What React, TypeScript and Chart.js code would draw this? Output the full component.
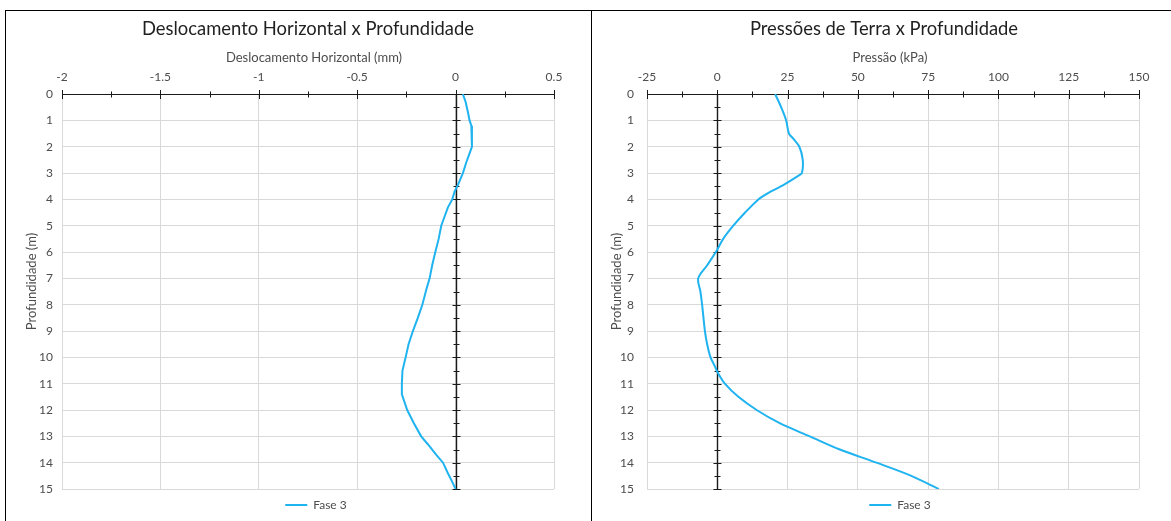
import React, { useEffect, useRef } from "react";
import { Chart, registerables } from "chart.js";

Chart.register(...registerables);

// ---------------- data ----------------
const depthTicks = [0, 1, 2, 3, 4, 5, 6, 7, 8, 9, 10, 11, 12, 13, 14, 15];

const deslocTicks = [-2, -1.5, -1, -0.5, 0, 0.5];
const deslocDepth = [
  0, 0.3, 0.7, 1.0, 1.2, 1.5, 2.0, 2.25, 2.6, 3.0, 3.45, 3.7, 4.0, 4.3, 4.65, 5.0, 5.5, 6.0, 6.5, 7.0,
  7.35, 8.0, 8.5, 9.0, 9.5, 10.0, 10.5, 11.0, 11.4, 12.0, 12.5, 13.0, 13.3, 13.7, 14.0, 14.4, 14.7, 15.0,
];
const deslocValue = [
  0.037, 0.051, 0.063, 0.071, 0.08, 0.083, 0.083, 0.071, 0.054, 0.037, 0.012, -0.005, -0.017, -0.039,
  -0.056, -0.073, -0.086, -0.103, -0.119, -0.132, -0.146, -0.169, -0.192, -0.217, -0.239, -0.254, -0.27,
  -0.273, -0.273, -0.246, -0.212, -0.175, -0.141, -0.098, -0.064, -0.039, -0.019, 0,
];

const pressaoTicks = [-25, 0, 25, 50, 75, 100, 125, 150];
const pressaoDepth = [
  0, 0.57, 1.0, 1.5, 1.7, 2.0, 2.5, 3.0, 3.1, 3.45, 3.75, 4.0, 4.5, 5.0, 5.5, 6.0, 6.5, 7.0, 7.5, 8.0,
  9.0, 9.5, 10.0, 10.35, 10.55, 11.0, 11.5, 12.0, 12.5, 13.0, 13.5, 14.0, 14.5, 15.0,
];
const pressaoValue = [
  20.6, 23, 24.5, 25.5, 27.1, 29.2, 30.4, 30.1, 28.9, 23.6, 18.2, 14.6, 9.9, 5.7, 2.1, -0.5, -3.6, -6.8,
  -6.0, -5.4, -4.4, -3.6, -2.4, -0.8, 0, 2.7, 7.5, 14, 22.2, 32.9, 43.6, 56.6, 69, 78.8,
];

const seriesLabel = "Fase 3";
const depthTitle = "Profundidade (m)";

// ---------------- styles ----------------
const FONT = "Lato, 'Open Sans', sans-serif";
const LINE_COLOR = "#1FB3F0";
const GRID_COLOR = "#D9D9D9";
const TEXT_COLOR = "#4d4d4d";
const TITLE_COLOR = "#1f1f1f";
const AXIS_COLOR = "#1a1a1a";

const crossAxesPlugin = {
  id: "crossAxes",
  beforeDatasetsDraw(chart: any, _args: any, opts: any) {
    const { ctx, chartArea: a, scales } = chart;
    const x = scales.x;
    const y = scales.y;
    const xt: number[] = opts.xTicks || [];
    ctx.save();
    ctx.strokeStyle = AXIS_COLOR;
    ctx.lineWidth = 1;
    ctx.beginPath();
    const yTop = Math.round(a.top) + 0.5;
    ctx.moveTo(a.left, yTop);
    ctx.lineTo(a.right, yTop);
    for (let i = 0; i < xt.length; i++) {
      const px = Math.round(x.getPixelForValue(xt[i])) + 0.5;
      ctx.moveTo(px, yTop - 4.5);
      ctx.lineTo(px, yTop + 4.5);
      if (i < xt.length - 1) {
        const pm = Math.round(x.getPixelForValue((xt[i] + xt[i + 1]) / 2)) + 0.5;
        ctx.moveTo(pm, yTop - 3);
        ctx.lineTo(pm, yTop + 3);
      }
    }
    ctx.stroke();
    ctx.beginPath();
    ctx.lineWidth = 1.4;
    const x0 = Math.round(x.getPixelForValue(0)) + 0.5;
    ctx.moveTo(x0, a.top);
    ctx.lineTo(x0, a.bottom);
    ctx.stroke();
    ctx.beginPath();
    ctx.lineWidth = 1;
    for (let i = 0; i < depthTicks.length; i++) {
      const py = Math.round(y.getPixelForValue(depthTicks[i])) + 0.5;
      ctx.moveTo(x0 - 4, py);
      ctx.lineTo(x0 + 4, py);
      if (i < depthTicks.length - 1) {
        const pm = Math.round(y.getPixelForValue((depthTicks[i] + depthTicks[i + 1]) / 2)) + 0.5;
        ctx.moveTo(x0 - 3, pm);
        ctx.lineTo(x0 + 3, pm);
      }
    }
    ctx.stroke();
    ctx.restore();
  },
};

// axis titles placed relative to the plot area
const axisTitlesPlugin = {
  id: "axisTitles",
  afterDraw(chart: any, _args: any, opts: any) {
    const { ctx, chartArea: a } = chart;
    ctx.save();
    ctx.fillStyle = TEXT_COLOR;
    ctx.font = `13px ${FONT}`;
    ctx.textAlign = "center";
    ctx.textBaseline = "middle";
    ctx.fillText(opts.xText, (a.left + a.right) / 2 + opts.xDx, a.top + opts.xDy);
    ctx.translate(opts.yX, (a.top + a.bottom) / 2 + opts.yDy);
    ctx.rotate(-Math.PI / 2);
    ctx.fillText(opts.yText, 0, 0);
    ctx.restore();
  },
};

const nudgePlugin = {
  id: "nudge",
  afterLayout(chart: any, _args: any, opts: any) {
    const t = chart.titleBlock;
    if (t && opts.titleDx) {
      t.left += opts.titleDx;
      t.right += opts.titleDx;
    }
    const l = chart.legend;
    if (l && opts.legendDx) {
      l.left += opts.legendDx;
      l.right += opts.legendDx;
    }
  },
};

type Cfg = {
  title: string;
  xTitle: string;
  depth: number[];
  values: number[];
  xTicks: number[];
  yAxisWidth: number;
  yTickPad: number;
  yTitleX: number;
  xTitleDx: number;
  padRight: number;
  titleDx: number;
  legendDx: number;
  tension: number;
};

function buildConfig(c: Cfg): any {
  const tickFont = { family: FONT, size: 12 };
  return {
    type: "scatter",
    data: {
      datasets: [
        {
          label: seriesLabel,
          data: c.depth.map((d, i) => ({ x: c.values[i], y: d })),
          showLine: true,
          borderColor: LINE_COLOR,
          backgroundColor: LINE_COLOR,
          borderWidth: 2,
          pointRadius: 0,
          pointHoverRadius: 0,
          tension: c.tension,
          fill: false,
        },
      ],
    },
    plugins: [crossAxesPlugin, axisTitlesPlugin, nudgePlugin],
    options: {
      responsive: false,
      animation: false,
      layout: { padding: { left: 0, right: c.padRight, top: 0, bottom: 0 } },
      plugins: {
        title: {
          display: true,
          text: c.title,
          color: TITLE_COLOR,
          font: { family: FONT, size: 18.4, weight: "normal" },
          padding: { top: 7, bottom: 0 },
        },
        legend: {
          position: "bottom",
          labels: {
            usePointStyle: true,
            pointStyle: "line",
            pointStyleWidth: 22,
            color: TEXT_COLOR,
            font: tickFont,
            padding: 10,
          },
        },
        tooltip: { enabled: false },
        crossAxes: { xTicks: c.xTicks },
        axisTitles: {
          xText: c.xTitle,
          xDx: c.xTitleDx,
          xDy: -36.5,
          yText: depthTitle,
          yX: c.yTitleX,
          yDy: -10,
        },
        nudge: { titleDx: c.titleDx, legendDx: c.legendDx },
      },
      scales: {
        x: {
          type: "linear",
          position: "top",
          min: c.xTicks[0],
          max: c.xTicks[c.xTicks.length - 1],
          afterBuildTicks: (s: any) => {
            s.ticks = c.xTicks.map((v) => ({ value: v }));
          },
          ticks: {
            padding: 10,
            color: TEXT_COLOR,
            font: tickFont,
            maxRotation: 0,
            autoSkip: false,
            callback: (v: any) => String(v),
          },
          grid: { color: GRID_COLOR, drawTicks: false, lineWidth: 1 },
          border: { display: false },
          title: { display: false },
          afterFit: (s: any) => {
            s.height = 54;
          },
        },
        y: {
          type: "linear",
          reverse: true,
          min: 0,
          max: 15,
          afterBuildTicks: (s: any) => {
            s.ticks = depthTicks.map((v) => ({ value: v }));
          },
          ticks: {
            padding: c.yTickPad,
            color: TEXT_COLOR,
            font: tickFont,
            autoSkip: false,
            callback: (v: any) => String(v),
          },
          grid: { color: GRID_COLOR, drawTicks: false, lineWidth: 1 },
          border: { display: false },
          title: { display: false },
          afterFit: (s: any) => {
            s.width = c.yAxisWidth;
          },
        },
      },
    },
  };
}

function ChartCanvas(props: { cfg: Cfg; left: number; top: number; width: number; height: number }) {
  const ref = useRef<HTMLCanvasElement | null>(null);
  useEffect(() => {
    if (!ref.current) return;
    const chart = new Chart(ref.current, buildConfig(props.cfg));
    return () => chart.destroy();
  }, []);
  return (
    <canvas
      ref={ref}
      width={props.width}
      height={props.height}
      style={{
        position: "absolute",
        left: props.left,
        top: props.top,
        width: props.width,
        height: props.height,
      }}
    />
  );
}

const leftCfg: Cfg = {
  title: "Deslocamento Horizontal x Profundidade",
  xTitle: "Deslocamento Horizontal (mm)",
  depth: deslocDepth,
  values: deslocValue,
  xTicks: deslocTicks,
  yAxisWidth: 56,
  yTickPad: 9,
  yTitleX: 26,
  xTitleDx: 6,
  padRight: 37,
  titleDx: 28,
  legendDx: 36,
  tension: 0,
};

const rightCfg: Cfg = {
  title: "Pressões de Terra x Profundidade",
  xTitle: "Pressão (kPa)",
  depth: pressaoDepth,
  values: pressaoValue,
  xTicks: pressaoTicks,
  yAxisWidth: 55,
  yTickPad: 13,
  yTitleX: 25,
  xTitleDx: -3,
  padRight: 32,
  titleDx: 18.5,
  legendDx: 34.5,
  tension: 0.3,
};

export default function App() {
  return (
    <div
      style={{
        position: "absolute",
        left: 0,
        top: 0,
        width: 1171,
        height: 521,
        overflow: "hidden",
        background: "#ffffff",
      }}
    >
      <div style={{ position: "absolute", left: 5, top: 10, width: 1166, height: 1, background: "#000" }} />
      <div style={{ position: "absolute", left: 5, top: 10, width: 1, height: 511, background: "#000" }} />
      <div style={{ position: "absolute", left: 591, top: 10, width: 1, height: 511, background: "#000" }} />
      <ChartCanvas cfg={leftCfg} left={6} top={11} width={585} height={510} />
      <ChartCanvas cfg={rightCfg} left={592} top={11} width={579} height={510} />
    </div>
  );
}
